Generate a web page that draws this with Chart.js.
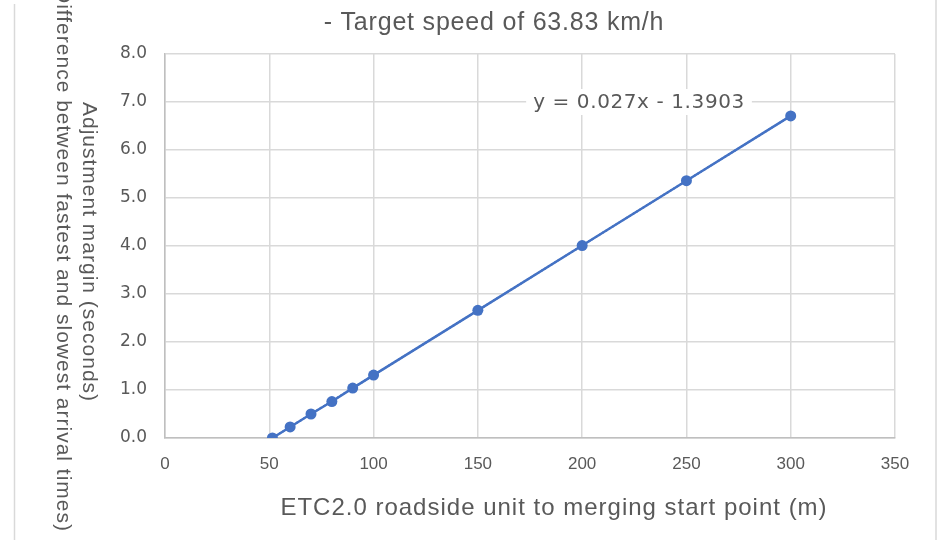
<!DOCTYPE html>
<html>
<head>
<meta charset="utf-8">
<title>Adjustment margin</title>
<script src="https://cdn.jsdelivr.net/npm/chart.js@4.4.1/dist/chart.umd.min.js"></script>
<style>
  body { margin: 0; background: #ffffff; }
  #wrap { width: 938px; height: 540px; }
</style>
</head>
<body>
<div id="wrap"><canvas id="myChart" width="938" height="540"></canvas></div>
<script>
// distance from ETC2.0 roadside unit to merging start point (m)
var distances = [51.5, 60, 70, 80, 90, 100, 150, 200, 250, 300];
// adjustment margin (seconds)
var margins = [0.00, 0.23, 0.50, 0.76, 1.04, 1.31, 2.66, 4.01, 5.36, 6.71];

// linear trendline as printed on the chart
var trendSlope = 0.027;
var trendIntercept = -1.3903;
var trendLabel = 'y = 0.027x - 1.3903';

var chartTitle = '- Target speed of 63.83 km/h';
var xTitle = 'ETC2.0 roadside unit to merging start point (m)';
var yTitle = ['Adjustment margin (seconds)', '(Difference between fastest and slowest arrival times)'];

var points = distances.map(function (d, i) { return { x: d, y: margins[i] }; });
var xFirst = distances[0];
var xLast = distances[distances.length - 1];
var trendPoints = [
  { x: xFirst, y: trendSlope * xFirst + trendIntercept },
  { x: xLast, y: trendSlope * xLast + trendIntercept }
];

var textGray = '#595959';
var gridGray = '#d9d9d9';
var blue = '#4472c4';
var sans = "'Liberation Sans', Arial, sans-serif";

// titles, trendline label and outer frame
var decorations = {
  id: 'decorations',
  afterDatasetsDraw: function (chart) {
    var ctx = chart.ctx;
    var ys = chart.scales.y;
    ctx.save();

    // frame edges
    ctx.strokeStyle = gridGray;
    ctx.lineWidth = 1.5;
    ctx.beginPath();
    ctx.moveTo(14.5, 4);
    ctx.lineTo(14.5, 540);
    ctx.moveTo(936, 0);
    ctx.lineTo(936, 540);
    ctx.stroke();

    // chart title
    ctx.fillStyle = textGray;
    ctx.textAlign = 'center';
    ctx.textBaseline = 'middle';
    ctx.font = '25px ' + sans;
    ctx.letterSpacing = '0.8px';
    ctx.fillText(chartTitle, 494, 23);

    // x axis title
    ctx.font = '24px ' + sans;
    ctx.letterSpacing = '1px';
    ctx.fillText(xTitle, 554, 508);

    // y axis title, turned clockwise
    ctx.font = '21px ' + sans;
    ctx.letterSpacing = '1px';
    ctx.save();
    ctx.translate(89, 252);
    ctx.rotate(Math.PI / 2);
    ctx.textAlign = 'center';
    ctx.fillText(yTitle[0], 0, 0);
    ctx.restore();
    ctx.save();
    ctx.translate(63, 532);
    ctx.rotate(Math.PI / 2);
    ctx.textAlign = 'right';
    ctx.fillText(yTitle[1], 0, 0);
    ctx.restore();

    // trendline equation box
    ctx.font = "20px 'DejaVu Sans', sans-serif";
    ctx.letterSpacing = '0.6px';
    var w = ctx.measureText(trendLabel).width;
    var cx = 639;
    var cy = ys.getPixelForValue(7);
    ctx.fillStyle = '#ffffff';
    ctx.fillRect(cx - w / 2 - 7, cy - 13, w + 14, 26);
    ctx.fillStyle = textGray;
    ctx.textAlign = 'center';
    ctx.fillText(trendLabel, cx, cy + 1);

    ctx.letterSpacing = '0px';
    ctx.restore();
  }
};

var ctx = document.getElementById('myChart').getContext('2d');
var myChart = new Chart(ctx, {
  type: 'scatter',
  data: {
    datasets: [{
      label: 'margin',
      data: points,
      showLine: true,
      borderColor: blue,
      backgroundColor: blue,
      borderWidth: 2.5,
      pointRadius: 5.5,
      pointHoverRadius: 5.5,
      pointBorderWidth: 0
    }, {
      label: 'trend',
      data: trendPoints,
      showLine: true,
      borderColor: blue,
      borderWidth: 2,
      borderDash: [2, 2],
      pointRadius: 0
    }]
  },
  plugins: [decorations],
  options: {
    responsive: false,
    animation: false,
    layout: { padding: { top: 54, right: 43, left: 0, bottom: 0 } },
    plugins: {
      legend: { display: false },
      tooltip: { enabled: false },
      title: { display: false }
    },
    scales: {
      x: {
        type: 'linear',
        min: 0,
        max: 350,
        ticks: {
          stepSize: 50,
          color: textGray,
          padding: 16,
          font: { family: sans, size: 17 }
        },
        grid: { color: gridGray, lineWidth: 1.5, drawTicks: false },
        border: { color: '#bfbfbf', width: 1.5 },
        afterFit: function (scale) { scale.height = 102; }
      },
      y: {
        type: 'linear',
        min: 0,
        max: 8,
        ticks: {
          stepSize: 1,
          color: textGray,
          padding: 18,
          font: { family: "'DejaVu Sans', sans-serif", size: 17 },
          callback: function (v) { return v.toFixed(1); }
        },
        grid: { color: gridGray, lineWidth: 1.5, drawTicks: false },
        border: { color: '#bfbfbf', width: 1.5 },
        afterFit: function (scale) { scale.width = 165; }
      }
    }
  }
});
</script>
</body>
</html>
